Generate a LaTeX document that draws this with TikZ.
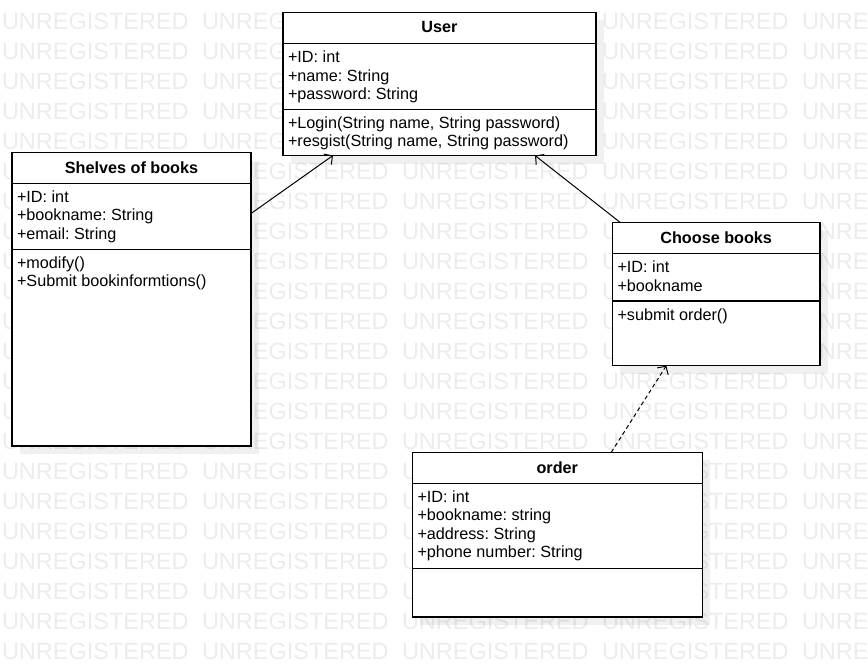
\documentclass[tikz,border=0pt]{standalone}
\usepackage{fontspec}
\setmainfont{Liberation Sans}
\usetikzlibrary{arrows.meta,shadows}
\definecolor{wmgray}{RGB}{236,236,236}
\frenchspacing
\begin{document}
\begin{tikzpicture}[x=1pt,y=-1pt,
  every node/.style={font=\fontsize{16.2}{18.5}\selectfont, inner sep=0pt, outer sep=0pt},
  wm/.style={font=\fontsize{23.5}{24}\selectfont, text=wmgray, anchor=base west},
  classbox/.style={draw=black, line width=1.1pt, fill=white, anchor=north west,
    drop shadow={shadow xshift=8pt, shadow yshift=-8pt, fill=black, opacity=0.06}},
  sepline/.style={line width=1.1pt},
  ctitle/.style={font=\bfseries\fontsize{16.2}{18.5}\selectfont, anchor=base},
  attr/.style={anchor=base west},
  assoc/.style={line width=1pt, -{Straight Barb[length=6pt,width=13pt]}},
  dep/.style={assoc, dash pattern=on 4pt off 3pt}
]
\useasboundingbox (0,0) rectangle (868,667);
% watermark
\begin{scope}
\clip (0,0) rectangle (868,667);
\foreach \r in {0,...,21}{
  \foreach \c in {0,...,4}{
    \node[wm] (wm-\r-\c) at ({2+200*\c},{29.3+30*\r}) {UNREGISTERED};
  }
}
\end{scope}

% User
\node[classbox, minimum width=313pt, minimum height=143.2pt] (user) at (283,12.3) {};
\draw[sepline] (283,43.3) -- (596,43.3);
\draw[sepline] (283,109.3) -- (596,109.3);
\node[ctitle] (user-t) at (439.5,32.8) {User};
\node[attr] (user-a1) at (288,62.5) {+ID: int};
\node[attr] (user-a2) at (288,81) {+name: String};
\node[attr] (user-a3) at (288,99.5) {+password: String};
\node[attr] (user-m1) at (288,128.3) {+Login(String name, String password)};
\node[attr] (user-m2) at (288,146.8) {+resgist(String name, String password)};

% Shelves of books
\node[classbox, minimum width=239pt, minimum height=293.5pt] (shelves) at (12,152.5) {};
\draw[sepline] (12,183.3) -- (251,183.3);
\draw[sepline] (12,249.3) -- (251,249.3);
\node[ctitle] (shelves-t) at (131.5,173.7) {Shelves of books};
\node[attr] (shelves-a1) at (17,202.3) {+ID: int};
\node[attr] (shelves-a2) at (17,220.8) {+bookname: String};
\node[attr] (shelves-a3) at (17,239.3) {+email: String};
\node[attr] (shelves-m1) at (17,268.3) {+modify()};
\node[attr] (shelves-m2) at (17,286.8) {+Submit bookinformtions()};

% Choose books
\node[classbox, minimum width=207.7pt, minimum height=143.2pt] (choose) at (612.3,222.5) {};
\draw[sepline] (612.3,253.3) -- (820,253.3);
\draw[sepline] (612.3,301) -- (820,301);
\node[ctitle] (choose-t) at (716.2,243.6) {Choose books};
\node[attr] (choose-a1) at (617.5,272.7) {+ID: int};
\node[attr] (choose-a2) at (617.5,291.2) {+bookname};
\node[attr] (choose-m1) at (617.5,320) {+submit order()};

% order
\node[classbox, minimum width=290pt, minimum height=164.7pt] (order) at (412.3,452.3) {};
\draw[sepline] (412.3,483.3) -- (702.3,483.3);
\draw[sepline] (412.3,568.3) -- (702.3,568.3);
\node[ctitle] (order-t) at (557.3,473.2) {order};
\node[attr] (order-a1) at (417.5,502.3) {+ID: int};
\node[attr] (order-a2) at (417.5,520.8) {+bookname: string};
\node[attr] (order-a3) at (417.5,539.3) {+address: String};
\node[attr] (order-a4) at (417.5,557.8) {+phone number: String};

% connectors
\draw[assoc] ([yshift=-61pt]shelves.north east) -- ([xshift=50pt]user.south west);
\draw[assoc] ([xshift=8pt]choose.north west) -- ([xshift=-61pt]user.south east);
\draw[dep] ([xshift=199pt]order.north west) -- ([xshift=54pt]choose.south west);
\end{tikzpicture}
\end{document}
